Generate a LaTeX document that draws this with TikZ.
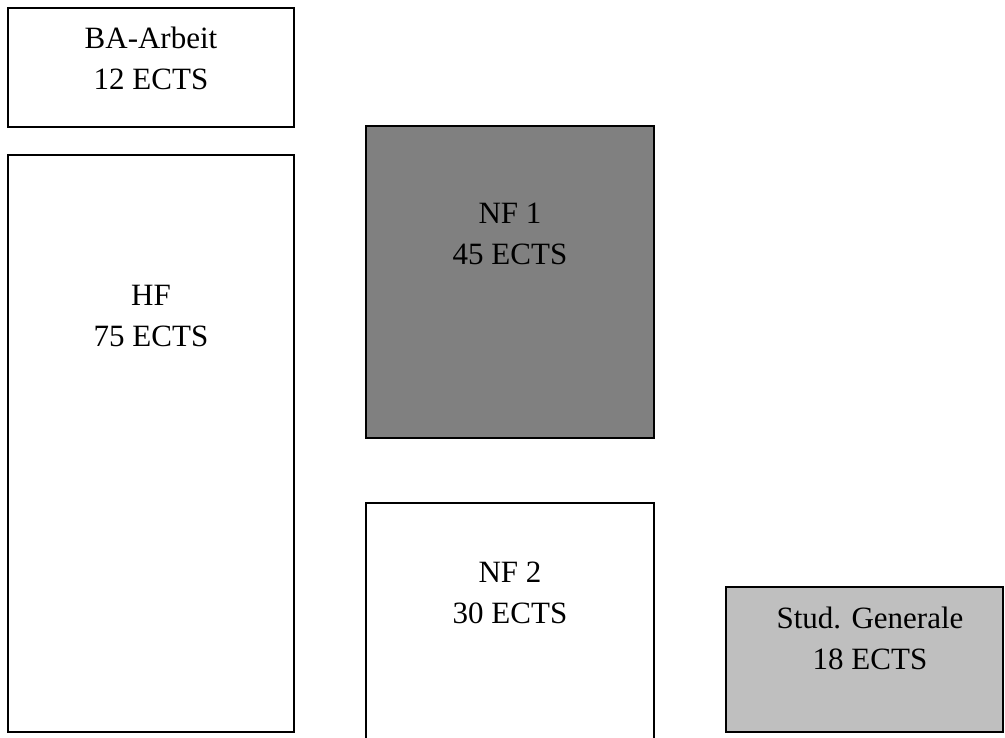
\documentclass[tikz,border=0pt]{standalone}
\usepackage{fontspec}
\setmainfont{Liberation Serif}
\usetikzlibrary{positioning}

\begin{document}
\begin{tikzpicture}[
    x=1pt, y=-1pt,
    module/.style={rectangle, draw=black, line width=1.6pt, anchor=north west,
        inner sep=0, outer sep=0},
    modtext/.style={align=center, inner sep=0, anchor=north,
        font=\fontsize{31}{41}\selectfont},
    ]

    \useasboundingbox (0, 0) rectangle (1005, 738);

    % modules
    \node (ba) [module, minimum width=286, minimum height=119] at (8, 8) {};
    \node (hf) [module, minimum width=286, minimum height=577] at (8, 155) {};
    \node (nf1) [module, fill=black!50, minimum width=288, minimum height=312]
        at (366, 126) {};
    \node (nf2) [module, minimum width=288, minimum height=257] at (366, 503) {};
    \node (sg) [module, fill=black!25, minimum width=277, minimum height=145]
        at (726, 587) {};

    % texts
    \node (ba-txt) [modtext, below=19pt of ba.north] {BA-Arbeit\\12 ECTS};
    \node (hf-txt) [modtext, below=130pt of hf.north] {HF\\75 ECTS};
    \node (nf1-txt) [modtext, below=77pt of nf1.north] {NF 1\\45 ECTS};
    \node (nf2-txt) [modtext, below=59pt of nf2.north] {NF 2\\30 ECTS};
    \node (sg-txt) [modtext, below=20pt of sg.north, xshift=5.5pt]
        {Stud. Generale\\18 ECTS};
\end{tikzpicture}
\end{document}
